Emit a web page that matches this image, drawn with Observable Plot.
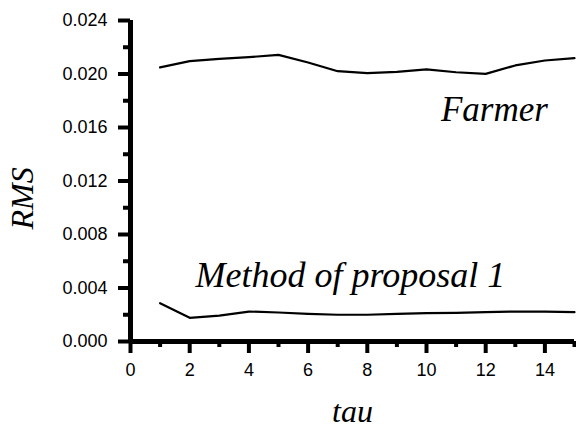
<!DOCTYPE html>
<html><head><meta charset="utf-8">
<script src="https://cdn.jsdelivr.net/npm/d3@7"></script>
<script src="https://cdn.jsdelivr.net/npm/@observablehq/plot@0.6"></script>
<style>
html,body{margin:0;padding:0;background:#fff;}
</style>
</head><body><div id="chart"></div>
<script>
const tau = [1,2,3,4,5,6,7,8,9,10,11,12,13,14,15];
const farmer = [0.02049,0.02096,0.02113,0.02126,0.02143,0.02086,0.02021,0.02006,0.02016,0.02034,0.02013,0.02001,0.02064,0.02101,0.02118];
const proposal = [0.00286,0.00177,0.00194,0.00224,0.00217,0.00207,0.00200,0.00200,0.00207,0.00212,0.00214,0.00219,0.00224,0.00224,0.00219];
const yMajor = [0,0.004,0.008,0.012,0.016,0.020,0.024];
const yMinor = [0.002,0.006,0.010,0.014,0.018,0.022];
const xMajor = [0,2,4,6,8,10,12,14];
const xMinor = [1,3,5,7,9,11,13,15];
const farmerLabel = [{text:"Farmer", x:14.1, y:0.01645}];
const proposalLabel = [{text:"Method of proposal 1", x:2.2, y:0.00404}];
const yTitle = [{text:"RMS", y:0.0107}];

const rows = [];
tau.forEach((t,i)=>{rows.push({tau:t,rms:farmer[i],s:"Farmer"});});
tau.forEach((t,i)=>{rows.push({tau:t,rms:proposal[i],s:"Proposal"});});

const sans = "'Liberation Sans', Arial, sans-serif";
const serif = "'Liberation Serif', 'Times New Roman', serif";

const chart = Plot.plot({
  width: 576,
  height: 429,
  marginLeft: 130,
  marginRight: 2,
  marginTop: 20,
  marginBottom: 88,
  style: {fontFamily: sans, fontSize: "18px", background: "#fff", color: "#000"},
  x: {domain: [0, 15]},
  y: {domain: [0, 0.024]},
  marks: [
    Plot.axisY(yMajor, {tickSize: 12, tickPadding: 11, strokeWidth: 4, tickFormat: d3.format(".3f"), fontSize: 18, label: null}),
    Plot.axisY(yMinor, {tickSize: 7, strokeWidth: 4, tickFormat: () => "", label: null}),
    Plot.axisX(xMajor, {tickSize: 12, tickPadding: 10, strokeWidth: 4, tickFormat: d3.format("d"), fontSize: 18, label: null}),
    Plot.axisX(xMinor, {tickSize: 6, strokeWidth: 4, tickFormat: () => "", label: null}),
    Plot.ruleX([0], {y1: 0, y2: 0.024, strokeWidth: 5}),
    Plot.ruleY([0], {x1: 0, x2: 15, strokeWidth: 5}),
    Plot.line(rows, {x: "tau", y: "rms", z: "s", stroke: "#000", strokeWidth: 2.2}),
    Plot.text(farmerLabel, {x: "x", y: "y", text: "text", textAnchor: "end", lineAnchor: "bottom", fontFamily: serif, fontStyle: "italic", fontSize: 35}),
    Plot.text(proposalLabel, {x: "x", y: "y", text: "text", textAnchor: "start", lineAnchor: "bottom", fontFamily: serif, fontStyle: "italic", fontSize: 36}),
    Plot.text(yTitle, {x: () => 0, y: "y", dx: -108, rotate: -90, textAnchor: "middle", text: "text", fontFamily: serif, fontStyle: "italic", fontSize: 32}),
    Plot.text(["tau"], {frameAnchor: "bottom", dy: 80, text: d => d, fontFamily: serif, fontStyle: "italic", fontSize: 32})
  ]
});
document.getElementById("chart").appendChild(chart);
</script>
</body></html>
